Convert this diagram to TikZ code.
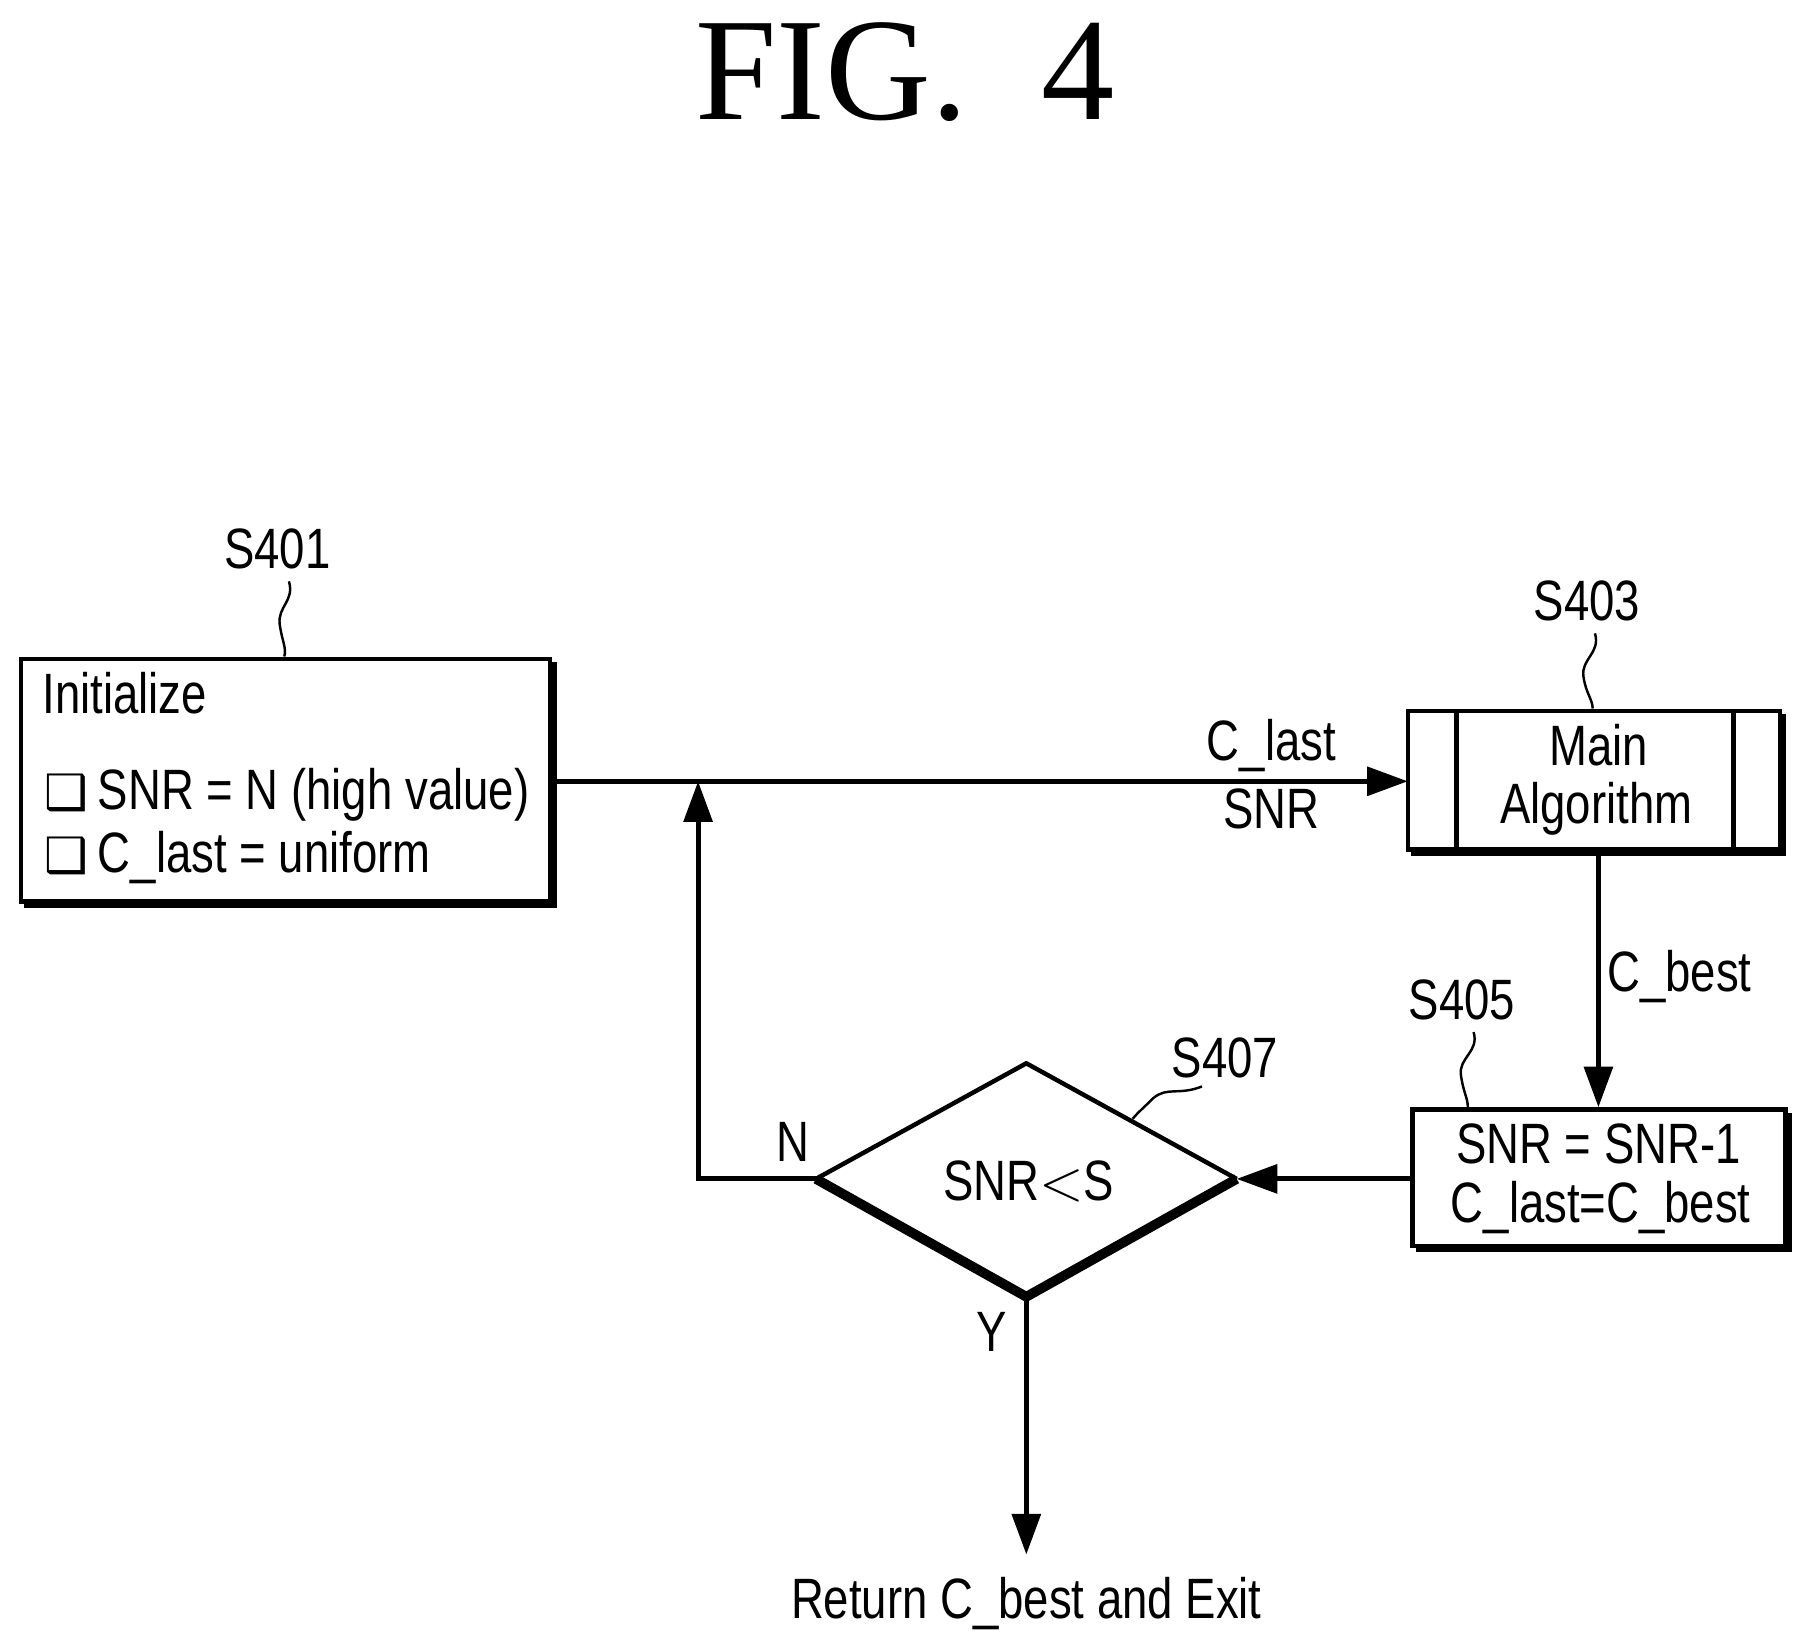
\documentclass[tikz,border=0pt]{standalone}
\usepackage{fontspec}
\setmainfont{Liberation Sans}[FakeStretch=0.8]
\newfontfamily\dv{DejaVu Sans}
\newfontfamily\titlefont{Liberation Serif}
\usetikzlibrary{arrows.meta}
\begin{document}
\begin{tikzpicture}[x=0.01cm,y=-0.01cm,
  txt/.style={font=\fontsize{14}{17}\selectfont,inner sep=0pt},
  arr/.style={line width=1.2pt,-{Triangle[length=10pt,width=7pt]}},
  ln/.style={line width=1.1pt},
  sq/.style={line width=0.6pt}]
\useasboundingbox (0,0) rectangle (1560,1424);
\node[font=\titlefont\fontsize{36}{40}\selectfont] (title) at (783,62) {FIG.\ \ 4};
% S401
\draw[ln] (18,570) rectangle (476,780);
\draw[line width=1.5pt] (479,573) -- (479,783) -- (21,783);
\coordinate (b1e) at (476,676);
\node[txt,anchor=west] (t1a) at (36,600) {Initialize};
\node[txt,anchor=west] (t1b) at (38,688) {{\dv\fontsize{12}{14}\selectfont ❑}\,SNR = N (high value)};
\node[txt,anchor=west] (t1c) at (38,742) {{\dv\fontsize{12}{14}\selectfont ❑}\,C\_last = uniform};
\node[txt] (l401) at (240,475) {S401};
\draw[sq] (250,503) .. controls (255,520) and (240,525) .. (242,540) .. controls (244,555) and (248,560) .. (246,568);
% S403
\draw[ln] (1218,615) rectangle (1540,735);
\draw[line width=1.5pt] (1543,618) -- (1543,738) -- (1221,738);
\draw[ln] (1260,615) -- (1260,735) (1500,615) -- (1500,735);
\coordinate (b3w) at (1218,676);
\coordinate (b3s) at (1383,738);
\node[txt] (t3a) at (1383,645) {Main};
\node[txt] (t3b) at (1381,700) {Algorithm};
\node[txt] (l403) at (1373,520) {S403};
\draw[sq] (1380,548) .. controls (1385,565) and (1368,570) .. (1370,585) .. controls (1372,600) and (1378,605) .. (1378,613);
% S405
\draw[ln] (1222,960) rectangle (1545,1078);
\draw[line width=1.5pt] (1548,963) -- (1548,1081) -- (1225,1081);
\coordinate (b5n) at (1383,958);
\coordinate (b5w) at (1222,1020);
\node[txt] (t5a) at (1383,990) {SNR = SNR-1};
\node[txt] (t5b) at (1385,1045) {C\_last=C\_best};
\node[txt] (l405) at (1265,865) {S405};
\draw[sq] (1275,893) .. controls (1280,910) and (1262,915) .. (1264,930) .. controls (1266,945) and (1270,950) .. (1270,958);
% diamond
\coordinate (dl) at (706,1020); \coordinate (dt) at (888,920);
\coordinate (dr) at (1070,1020); \coordinate (db) at (888,1122);
\draw[ln] (dl) -- (dt) -- (dr);
\draw[line width=2.4pt,line join=miter] (dl) -- (db) -- (dr);
\node[txt] (t7) at (890,1022) {SNR$<$S};
\node[txt] (l407) at (1060,915) {S407};
\draw[sq] (1040,940) .. controls (1020,948) and (1010,940) .. (998,950) .. controls (990,958) and (985,962) .. (980,968);
% connectors
\draw[arr] (b1e) -- (b3w);
\node[txt] (cl) at (1100,645) {C\_last};
\node[txt] (snr) at (1100,700) {SNR};
\draw[arr] (b3s) -- (b5n);
\node[txt] (cb) at (1453,845) {C\_best};
\draw[arr] (b5w) -- (dr);
\coordinate (up) at (604,676);
\draw[arr] (dl) -- (604,1020) -- (up);
\node[txt] (n) at (686,988) {N};
\coordinate (ret) at (888,1345);
\draw[arr] (db) -- (ret);
\node[txt] (y) at (858,1152) {Y};
\node[txt] (rt) at (888,1387) {Return C\_best and Exit};
\end{tikzpicture}
\end{document}
